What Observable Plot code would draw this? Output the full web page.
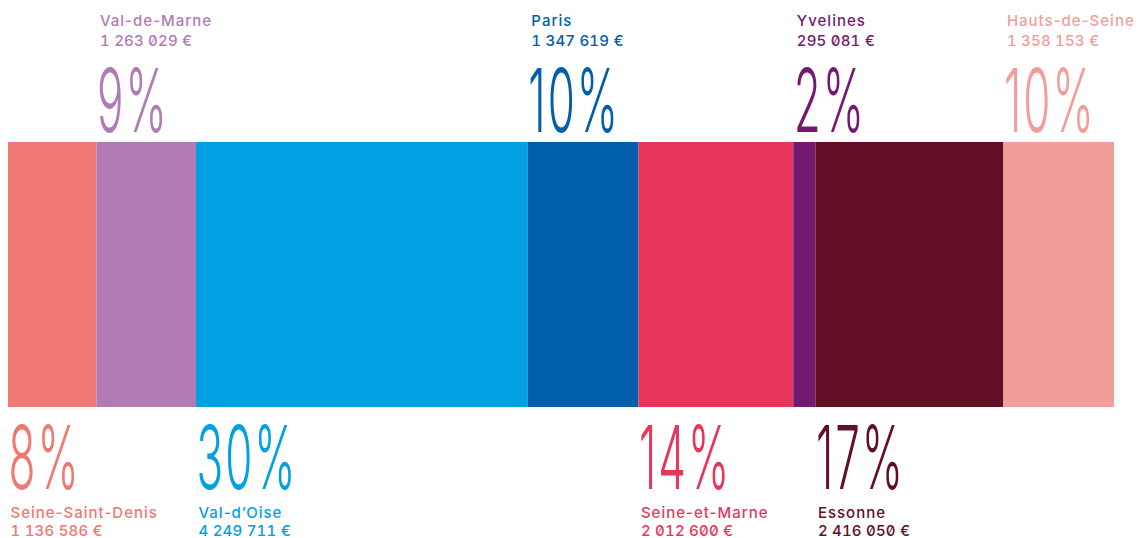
<!DOCTYPE html>
<html>
<head>
<meta charset="utf-8">
<script src="https://cdn.jsdelivr.net/npm/d3@7"></script>
<script src="https://cdn.jsdelivr.net/npm/@observablehq/plot@0.6"></script>
<style>
  html, body { margin: 0; padding: 0; background: #fff; }
  #chart svg { display: block; }
  #chart g[aria-description="values"] text { font-feature-settings: "tnum", "zero"; letter-spacing: 0.2px; }
  #chart g[aria-description="names"] text { letter-spacing: 1px; }
  #chart g[aria-description="pct"] text { letter-spacing: 4px; }
</style>
</head>
<body>
<div id="chart"></div>
<script>
const names  = ["Seine-Saint-Denis", "Val-de-Marne", "Val-d’Oise", "Paris", "Seine-et-Marne", "Yvelines", "Essonne", "Hauts-de-Seine"];
const values = [1136586, 1263029, 4249711, 1347619, 2012600, 295081, 2416050, 1358153];
const pcts   = [8, 9, 30, 10, 14, 2, 17, 10];
const sides  = ["below", "above", "below", "above", "below", "above", "below", "above"];
const colors = ["#ef7873", "#b07bb5", "#00a0e3", "#005eab", "#e8365a", "#731a70", "#620e24", "#f39d9b"];

const locale = d3.formatLocale({decimal: ",", thousands: " ", grouping: [3], currency: ["", " €"]});
const fmt = locale.format("$,.0f");

// segment widths follow the rounded percentages shown on the chart
const starts = [0, ...d3.cumsum(pcts)].slice(0, pcts.length);
const data = names.map((name, i) => ({
  name, value: values[i], pct: pcts[i] + "%", side: sides[i],
  start: starts[i], end: starts[i] + pcts[i], label: fmt(values[i]), y1: 0, y2: 1
}));
const above = data.filter(d => d.side === "above");
const below = data.filter(d => d.side === "below");

const textBase = {x: "start", fill: "name", textAnchor: "start", lineAnchor: "bottom"};

const chart = Plot.plot({
  width: 1142,
  height: 538,
  margin: 0,
  x: {domain: [0, d3.sum(pcts)], range: [8, 1114], axis: null},
  y: {domain: [0, 1], range: [407, 142], axis: null},
  color: {domain: names, range: colors},
  style: {fontFamily: "Inter, 'Noto Sans', sans-serif", background: "#fff"},
  marks: [
    Plot.rect(data, {x1: "start", x2: "end", y1: "y1", y2: "y2", fill: "name"}),
    // above labels
    Plot.text(above, {...textBase, y: "y2", text: "pct", fontSize: 88, fontWeight: 300, dy: -11, dx: 0, ariaDescription: "pct"}),
    Plot.text(above, {...textBase, y: "y2", text: "name", fontSize: 15, fontWeight: 450, dy: -117, dx: 3, ariaDescription: "names"}),
    Plot.text(above, {...textBase, y: "y2", text: "label", fontSize: 15, fontWeight: 450, dy: -97, dx: 3, ariaDescription: "values"}),
    // below labels
    Plot.text(below, {...textBase, y: "y1", text: "pct", fontSize: 88, fontWeight: 300, dy: 81, dx: 0, ariaDescription: "pct"}),
    Plot.text(below, {...textBase, y: "y1", text: "name", fontSize: 15, fontWeight: 450, dy: 110, dx: 2, ariaDescription: "names"}),
    Plot.text(below, {...textBase, y: "y1", text: "label", fontSize: 15, fontWeight: 450, dy: 128, dx: 2, ariaDescription: "values"})
  ]
});

// condense the big percentage figures horizontally
d3.select(chart).selectAll('g[aria-description="pct"] text').attr("transform", function() {
  return (d3.select(this).attr("transform") || "") + " scale(0.5,1)";
});

document.getElementById("chart").appendChild(chart);
</script>
</body>
</html>
